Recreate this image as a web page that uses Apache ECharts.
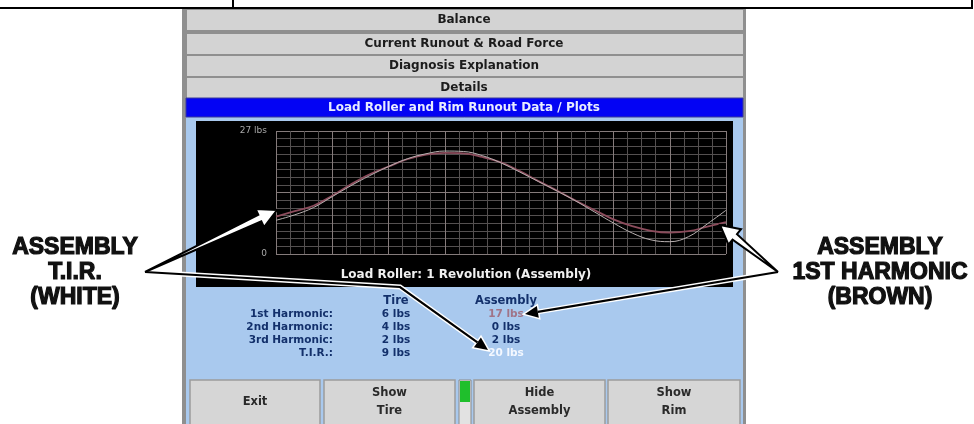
<!DOCTYPE html>
<html>
<head>
<meta charset="utf-8">
<script src="https://cdn.jsdelivr.net/npm/echarts@6/dist/echarts.min.js"></script>
<style>
html, body { margin: 0; padding: 0; background: #fff; }
#main { width: 974px; height: 424px; }
</style>
</head>
<body>
<div id="main"></div>
<script>
// one revolution of the load roller, degrees
const angles = [0, 15, 30, 45, 60, 75, 90, 105, 120, 135, 150, 165, 180,
  195, 210, 225, 240, 255, 270, 285, 300, 315, 330, 345, 360];
// assembly T.I.R. trace (white), lbs
const assemblyTIR = [7.4, 8.6, 10.2, 12.6, 15.0, 17.2, 19.2, 20.9, 22.0, 22.6, 22.5, 21.6, 20.0,
  18.0, 15.9, 13.8, 11.6, 9.2, 6.8, 4.6, 3.1, 2.7, 3.8, 6.6, 9.6];
// assembly 1st harmonic trace (brown), lbs
const assembly1st = [8.2, 9.4, 10.6, 12.8, 15.3, 17.5, 19.2, 20.8, 21.8, 22.2, 22.1, 21.3, 20.1,
  18.2, 16.0, 13.9, 11.7, 9.6, 7.6, 6.1, 5.1, 4.7, 5.0, 6.0, 7.0];
const yMax = 27;

const tabs = ['Balance', 'Current Runout & Road Force', 'Diagnosis Explanation', 'Details'];
const rowLabels = ['1st Harmonic:', '2nd Harmonic:', '3rd Harmonic:', 'T.I.R.:'];
const tireValues = ['6 lbs', '4 lbs', '2 lbs', '9 lbs'];
const assemblyValues = ['17 lbs', '0 lbs', '2 lbs', '20 lbs'];
const buttons = ['Exit', 'Show\nTire', 'Hide\nAssembly', 'Show\nRim'];

var chart = echarts.init(document.getElementById('main'));

const FONT = 'DejaVu Sans';
const tabTop = [10, 34, 56, 78];
const rowY = [314, 327, 340, 353];
const btnX = [[190, 320], [324, 455], [474, 605], [608, 740]];
const assemblyColors = ['#a07488', '#13306b', '#13306b', '#f4f8ff'];

// hollow (outlined) arrow from tail point to tip
function hollowArrow(tail, tip) {
  const dx = tip[0] - tail[0], dy = tip[1] - tail[1];
  const len = Math.sqrt(dx * dx + dy * dy);
  const ux = dx / len, uy = dy / len, nx = -uy, ny = ux;
  const hl = 19, hw = 10, sw = 3.5;
  const bx = tip[0] - ux * hl, by = tip[1] - uy * hl;
  return {
    type: 'polygon', z: 100,
    shape: { points: [
      tail,
      [bx + nx * sw, by + ny * sw],
      [bx + nx * hw, by + ny * hw],
      tip,
      [bx - nx * hw, by - ny * hw],
      [bx - nx * sw, by - ny * sw]
    ] },
    style: { fill: '#fff', stroke: '#000', lineWidth: 2, lineJoin: 'miter' }
  };
}

// black line with filled head, white halo so it shows over the plot
function solidArrow(points) {
  const tip = points[points.length - 1], prev = points[points.length - 2];
  const dx = tip[0] - prev[0], dy = tip[1] - prev[1];
  const len = Math.sqrt(dx * dx + dy * dy);
  const ux = dx / len, uy = dy / len, nx = -uy, ny = ux;
  const hl = 13, hw = 6;
  const bx = tip[0] - ux * hl, by = tip[1] - uy * hl;
  const line = points.slice(0, -1).concat([[bx, by]]);
  const head = [tip, [bx + nx * hw, by + ny * hw], [bx - nx * hw, by - ny * hw]];
  return [
    { type: 'polyline', z: 99, shape: { points: line }, style: { stroke: '#fff', lineWidth: 5, fill: null } },
    { type: 'polygon', z: 99, shape: { points: head }, style: { fill: '#fff', stroke: '#fff', lineWidth: 3 } },
    { type: 'polyline', z: 100, shape: { points: line }, style: { stroke: '#000', lineWidth: 2.2, fill: null } },
    { type: 'polygon', z: 100, shape: { points: head }, style: { fill: '#000' } }
  ];
}

const graphics = [];
// cut-off table lines at the very top
graphics.push({ type: 'line', z: -20, shape: { x1: 0, y1: 8, x2: 973, y2: 8 }, style: { stroke: '#000', lineWidth: 2 } });
graphics.push({ type: 'line', z: -20, shape: { x1: 233, y1: 0, x2: 233, y2: 8 }, style: { stroke: '#000', lineWidth: 2 } });
graphics.push({ type: 'line', z: -20, shape: { x1: 972, y1: 0, x2: 972, y2: 8 }, style: { stroke: '#000', lineWidth: 2 } });

// screen frame
graphics.push({ type: 'rect', z: -20, shape: { x: 182, y: 9, width: 564, height: 415 }, style: { fill: '#8f8f8f' } });
tabs.forEach((t, i) => {
  graphics.push({ type: 'rect', z: -19, shape: { x: 187, y: tabTop[i], width: 556, height: 20 }, style: { fill: '#d3d3d3' } });
  graphics.push({ type: 'text', z: -18, style: { text: t, x: 464, y: tabTop[i] + 10, align: 'center', verticalAlign: 'middle',
    fill: '#1c1c1c', font: 'bold 12px ' + FONT } });
});
graphics.push({ type: 'rect', z: -19, shape: { x: 186, y: 98, width: 557, height: 326 }, style: { fill: '#a9c9ee' } });
graphics.push({ type: 'rect', z: -18, shape: { x: 186, y: 98, width: 557, height: 19 }, style: { fill: '#0303f4', stroke: '#3a3a9a', lineWidth: 1 } });
graphics.push({ type: 'text', z: -17, style: { text: 'Load Roller and Rim Runout Data / Plots', x: 464, y: 108,
  align: 'center', verticalAlign: 'middle', fill: '#e8ecff', font: 'bold 12px ' + FONT } });
graphics.push({ type: 'rect', z: -18, shape: { x: 196, y: 121, width: 537, height: 166 }, style: { fill: '#000' } });
graphics.push({ type: 'text', z: 5, style: { text: 'Load Roller: 1 Revolution (Assembly)', x: 466, y: 275,
  align: 'center', verticalAlign: 'middle', fill: '#f0f0f0', font: 'bold 12px ' + FONT } });

// harmonic table
const tableFont = 'bold 10.5px ' + FONT;
graphics.push({ type: 'text', z: 5, style: { text: 'Tire', x: 396, y: 301, align: 'center', verticalAlign: 'middle', fill: '#13306b', font: 'bold 11.5px ' + FONT } });
graphics.push({ type: 'text', z: 5, style: { text: 'Assembly', x: 506, y: 301, align: 'center', verticalAlign: 'middle', fill: '#13306b', font: 'bold 11.5px ' + FONT } });
rowLabels.forEach((t, i) => {
  graphics.push({ type: 'text', z: 5, style: { text: t, x: 333, y: rowY[i], align: 'right', verticalAlign: 'middle', fill: '#13306b', font: tableFont } });
  graphics.push({ type: 'text', z: 5, style: { text: tireValues[i], x: 396, y: rowY[i], align: 'center', verticalAlign: 'middle', fill: '#13306b', font: tableFont } });
  graphics.push({ type: 'text', z: 5, style: { text: assemblyValues[i], x: 506, y: rowY[i], align: 'center', verticalAlign: 'middle', fill: assemblyColors[i], font: tableFont } });
});

// buttons
buttons.forEach((t, i) => {
  const x0 = btnX[i][0], x1 = btnX[i][1];
  graphics.push({ type: 'rect', z: -10, shape: { x: x0, y: 380, width: x1 - x0, height: 48 }, style: { fill: '#d6d6d6', stroke: '#9c9c9c', lineWidth: 1.5 } });
  graphics.push({ type: 'text', z: -9, style: { text: t, x: (x0 + x1) / 2, y: 402, align: 'center', verticalAlign: 'middle',
    fill: '#2a2a2a', font: 'bold 11.5px ' + FONT, lineHeight: 18 } });
});
graphics.push({ type: 'rect', z: -10, shape: { x: 459, y: 380, width: 12, height: 48 }, style: { fill: '#e2e2e2', stroke: '#8a8a8a', lineWidth: 1 } });
graphics.push({ type: 'rect', z: -9, shape: { x: 460, y: 381, width: 10, height: 21 }, style: { fill: '#1fbf2c' } });

// callouts
const calloutFont = 'bold 23px "Liberation Sans"';
const calloutStyle = { fill: '#111', stroke: '#111', lineWidth: 1.2, align: 'center', verticalAlign: 'middle', font: calloutFont };
['ASSEMBLY', 'T.I.R.', '(WHITE)'].forEach((t, i) => {
  graphics.push({ type: 'text', z: 100, style: Object.assign({ text: t, x: 75, y: 248 + i * 25 }, calloutStyle) });
});
['ASSEMBLY', '1ST HARMONIC', '(BROWN)'].forEach((t, i) => {
  graphics.push({ type: 'text', z: 100, style: Object.assign({ text: t, x: 880, y: 248 + i * 25 }, calloutStyle) });
});
graphics.push(...solidArrow([[145, 272], [400, 287], [488, 350]]));
graphics.push(...solidArrow([[778, 272], [525, 314]]));
graphics.push(hollowArrow([145, 272], [277, 210]));
graphics.push(hollowArrow([778, 272], [720, 225]));

const option = {
  backgroundColor: '#fff',
  animation: false,
  grid: { left: 276, top: 131, width: 450, height: 123 },
  graphic: graphics,
  xAxis: {
    type: 'value', min: 0, max: 360, interval: 45,
    axisLine: { show: false }, axisTick: { show: false }, axisLabel: { show: false },
    splitLine: { show: true, lineStyle: { color: '#857b7b', width: 1 } },
    minorTick: { show: false, splitNumber: 4 },
    minorSplitLine: { show: true, lineStyle: { color: '#545050', width: 1 } }
  },
  yAxis: {
    type: 'value', min: 0, max: yMax, interval: yMax / 2,
    axisLine: { show: false }, axisTick: { show: false },
    axisLabel: {
      color: '#a8a8a8', fontSize: 9, fontFamily: FONT, margin: 9,
      formatter: (v) => (v === yMax ? yMax + ' lbs' : v === 0 ? '0' : '')
    },
    splitLine: { show: true, lineStyle: { color: '#857b7b', width: 1 } },
    minorTick: { show: false, splitNumber: 8 },
    minorSplitLine: { show: true, lineStyle: { color: '#545050', width: 1 } }
  },
  series: [
    {
      name: 'Assembly 1st Harmonic', type: 'line', smooth: 0.4, showSymbol: false,
      data: angles.map((a, i) => [a, assembly1st[i]]),
      lineStyle: { color: '#8c4c5c', width: 1.8 }, z: 3
    },
    {
      name: 'Assembly T.I.R.', type: 'line', smooth: 0.4, showSymbol: false,
      data: angles.map((a, i) => [a, assemblyTIR[i]]),
      lineStyle: { color: '#b8b0b0', width: 1 }, z: 4
    }
  ]
};
chart.setOption(option);
</script>
</body>
</html>
